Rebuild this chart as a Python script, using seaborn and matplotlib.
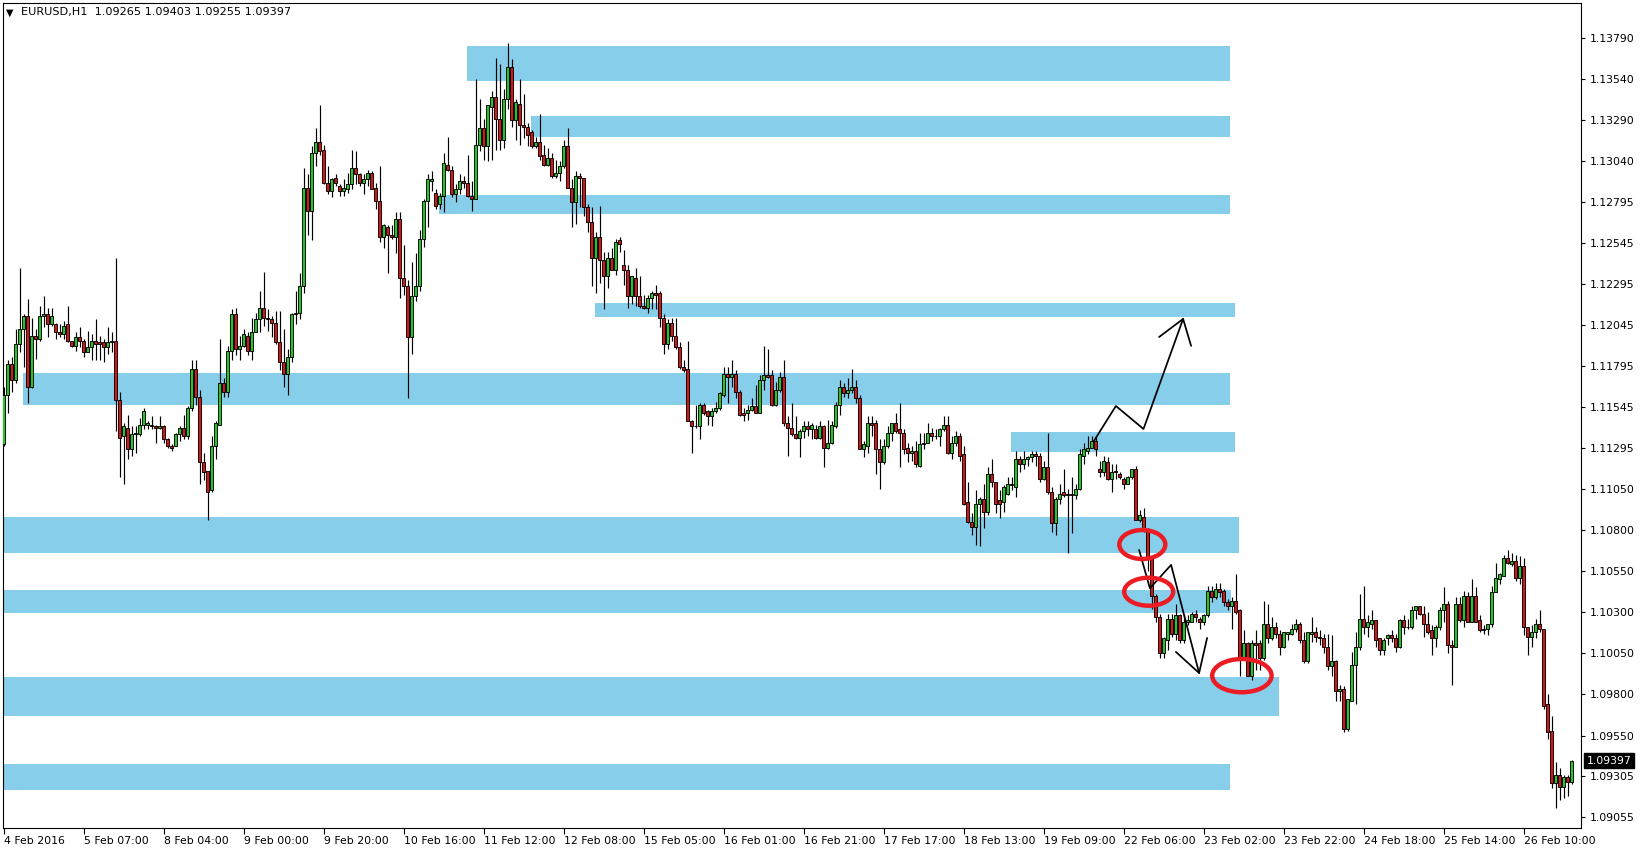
import numpy as np
import pandas as pd
import matplotlib
matplotlib.use("Agg")
import matplotlib.pyplot as plt
import matplotlib.transforms as mtransforms
from matplotlib.patches import Rectangle, Ellipse
import seaborn as sns

# ---------------- data (EURUSD H1), prices stored as pips above 1.0900 ----------------
BASE = 1.0900
open_pips = [
    232,262,281,271,293,302,310,267,298,296,310,311,305,305,300,299,305,295,292,297,
    295,288,291,295,294,294,291,294,295,259,237,242,229,238,238,244,244,244,243,242,
    243,235,231,231,238,242,237,254,278,261,221,216,204,231,244,269,264,289,311,290,
    292,298,289,300,308,315,309,308,306,294,282,275,285,311,312,328,388,374,409,416,
    411,391,386,394,389,386,387,390,400,396,391,393,397,388,380,358,364,359,358,369,
    333,328,297,322,328,357,380,392,385,378,383,402,399,384,387,392,391,383,381,414,
    424,413,437,443,430,417,442,461,429,439,426,425,422,413,416,408,402,406,395,397,
    401,413,388,379,395,394,376,367,345,358,344,334,345,338,356,341,338,322,333,322,
    316,315,321,324,324,309,293,306,298,291,279,278,246,243,243,256,252,249,252,254,
    262,275,273,275,264,251,251,253,255,251,271,274,274,256,265,273,245,242,238,236,
    240,243,241,241,236,243,230,233,243,256,267,263,265,267,260,229,231,245,245,229,
    221,231,239,245,241,239,230,227,228,219,232,233,239,237,237,241,244,227,233,237,
    226,197,185,182,196,199,191,214,209,198,197,202,208,206,223,220,223,224,226,225,
    211,218,203,184,199,203,202,202,201,205,225,228,230,234,217,215,221,211,216,214,
    211,208,212,217,186,188,180,162,140,127,105,113,126,117,128,113,124,124,129,126,
    124,128,143,139,144,143,136,134,137,131,102,111,91,111,111,102,123,114,121,117,
    109,117,117,120,123,113,100,117,118,115,114,109,97,100,82,83,59,76,98,109,
    126,121,123,125,114,107,114,116,114,109,125,121,121,131,134,129,123,119,114,121,
    131,135,110,109,135,125,140,124,140,125,119,120,123,142,150,152,163,159,161,151,
    158,121,115,118,123,120,74,58,26,31,24,30,26.5,
]
high_pips = [
    267,283,285,302,339,311,320,309,302,316,322,315,315,306,305,307,316,295,300,303,
    296,301,299,308,298,296,303,300,345,264,245,250,243,243,248,254,246,249,244,249,
    244,236,232,239,243,250,255,283,283,265,227,216,237,246,296,272,292,314,315,298,
    302,300,309,312,325,337,314,310,313,313,302,290,312,325,336,400,396,413,424,438,
    414,401,394,396,390,393,397,411,410,397,396,399,398,391,401,366,365,365,373,373,
    353,332,343,348,362,381,396,398,387,385,409,419,401,390,396,395,408,392,454,442,
    430,438,447,467,463,448,476,466,442,454,445,427,423,419,433,414,412,409,405,404,
    417,424,393,398,397,394,378,376,361,377,349,349,351,357,358,350,341,334,339,334,
    323,323,325,329,325,311,308,309,309,294,283,295,247,256,257,257,253,254,258,264,
    279,279,283,277,265,254,256,260,268,274,292,290,277,270,276,283,249,257,249,241,
    246,246,245,244,246,244,247,246,258,271,269,272,278,271,262,234,249,249,247,235,
    235,243,245,251,257,241,233,231,234,239,239,245,242,241,242,249,249,237,240,239,
    231,209,190,204,200,208,218,223,209,204,207,212,212,228,225,228,225,228,228,227,
    222,239,206,200,208,217,205,212,208,229,233,237,237,237,222,225,224,220,220,215,
    212,213,217,219,192,193,181,163,141,129,115,129,129,135,129,129,128,130,131,127,
    129,146,146,148,148,144,138,139,153,132,119,112,113,119,113,137,135,127,124,119,
    118,118,123,126,124,118,118,127,121,119,117,117,116,101,86,85,77,106,118,141,
    146,128,131,125,114,114,117,119,117,126,128,126,134,134,134,134,130,122,122,133,
    145,137,113,139,139,143,142,150,145,128,122,123,146,160,154,165,168,166,165,164,
    163,121,122,126,131,120,80,67,39,35,31,31,40.3,
]
low_pips = [
    231,251,264,269,288,279,257,266,284,295,303,297,304,296,297,296,294,291,289,291,
    285,288,283,283,283,282,287,288,240,212,208,223,225,227,237,241,241,241,233,241,
    233,230,228,231,234,235,235,252,256,208,210,186,203,223,244,261,261,283,286,283,
    291,286,283,300,300,304,301,297,293,277,267,262,282,305,308,324,359,356,401,408,
    390,384,382,389,383,383,385,387,390,389,384,389,387,375,355,351,336,357,348,321,
    323,260,287,319,325,352,364,386,375,375,373,398,382,379,384,388,382,374,381,410,
    405,404,405,411,411,412,436,425,417,414,418,413,412,412,405,401,401,394,394,392,
    400,388,364,366,376,371,361,328,324,330,314,327,338,335,349,329,315,317,316,315,
    314,312,314,314,303,287,290,295,290,278,276,246,227,242,235,250,244,243,251,253,
    261,257,267,260,249,246,247,252,251,251,265,272,255,255,264,243,225,237,235,224,
    236,237,235,235,235,218,229,232,242,250,261,260,263,257,229,224,227,237,214,205,
    220,230,234,239,218,226,221,222,218,218,229,233,234,235,231,240,226,223,231,222,
    195,184,177,171,170,181,189,206,190,187,191,201,204,200,215,217,219,221,219,209,
    210,202,179,177,196,200,166,178,199,204,220,226,230,225,212,213,210,203,211,211,
    205,208,211,186,185,179,155,132,124,102,102,107,115,113,111,111,122,124,124,120,
    122,127,136,138,139,134,131,120,129,91,101,91,89,95,95,101,111,113,114,104,
    108,113,116,118,111,99,99,112,112,110,105,95,91,76,76,57,58,76,74,107,
    117,115,120,109,104,104,110,112,106,108,117,120,120,126,128,115,117,104,109,119,
    124,105,86,109,124,121,124,124,124,118,117,116,121,142,147,152,159,158,149,147,
    116,104,109,114,118,71,53,23,11,16,17,18,25.5,
]
close_pips = [
    262,281,271,293,302,310,267,298,296,310,311,305,310,300,299,304,295,292,297,295,
    288,291,295,293,293,291,294,295,259,236,243,229,238,239,244,252,245,243,242,243,
    235,231,230,238,242,237,254,278,261,221,215,203,231,245,269,264,289,311,290,292,
    299,289,300,308,315,309,308,306,294,282,275,285,311,312,328,388,374,409,416,410,
    391,386,393,391,386,388,390,400,396,391,393,397,387,380,358,365,359,358,369,333,
    328,297,322,328,357,380,393,393,377,383,403,399,384,387,392,391,383,381,414,424,
    413,438,443,430,417,442,461,429,440,426,425,420,413,416,407,402,406,395,397,401,
    413,388,379,395,394,376,367,345,358,344,334,345,338,355,354,338,322,334,322,316,
    315,321,324,323,309,293,306,298,291,279,277,246,243,243,256,251,249,252,254,263,
    275,273,275,264,250,250,253,255,251,271,274,273,256,265,273,245,242,238,236,240,
    243,241,244,236,243,230,233,244,256,267,263,265,267,260,229,232,245,244,229,221,
    231,239,245,240,239,229,227,228,220,232,233,239,237,237,241,244,227,233,237,225,
    196,185,182,196,199,191,214,209,196,196,206,208,207,223,220,223,224,226,225,211,
    218,203,184,199,202,201,201,201,205,226,229,230,234,229,215,222,211,215,215,212,
    208,212,217,186,189,180,162,140,127,105,114,126,117,128,113,124,125,129,127,124,
    128,143,139,144,142,136,134,137,130,102,111,91,111,110,102,123,114,121,117,109,
    118,118,120,123,113,100,118,118,115,114,109,97,100,82,83,59,77,98,109,126,
    121,124,125,113,107,113,116,114,109,125,121,121,131,134,129,123,118,114,121,131,
    135,110,109,135,125,140,124,140,124,119,120,123,142,151,153,163,160,161,151,158,
    121,115,118,123,120,73,57,26,31,24,30,27,39.7,
]

x_tick_labels = ["4 Feb 2016", "5 Feb 07:00", "8 Feb 04:00", "9 Feb 00:00", "9 Feb 20:00",
                 "10 Feb 16:00", "11 Feb 12:00", "12 Feb 08:00", "15 Feb 05:00", "16 Feb 01:00",
                 "16 Feb 21:00", "17 Feb 17:00", "18 Feb 13:00", "19 Feb 09:00", "22 Feb 06:00",
                 "23 Feb 02:00", "23 Feb 22:00", "24 Feb 18:00", "25 Feb 14:00", "26 Feb 10:00"]
x_tick_bars = list(range(0, 381, 20))
y_tick_values = [1.13790, 1.13540, 1.13290, 1.13040, 1.12795, 1.12545, 1.12295, 1.12045,
                 1.11795, 1.11545, 1.11295, 1.11050, 1.10800, 1.10550, 1.10300, 1.10050,
                 1.09800, 1.09550, 1.09305, 1.09055]

# supply / demand zones (bar index span, price span)
zone_left = [115.9, 131.9, 108.9, 147.9, 4.9, 251.9, -0.2, -0.2, -0.2, -0.2]
zone_right = [306.7, 306.7, 306.7, 307.8, 306.7, 307.8, 308.8, 306.9, 318.9, 306.7]
zone_low = [1.13528, 1.13190, 1.12717, 1.12092, 1.11561, 1.11275, 1.10661, 1.10297, 1.09671, 1.09216]
zone_high = [1.13741, 1.13316, 1.12836, 1.12177, 1.11752, 1.11393, 1.10878, 1.10435, 1.09904, 1.09380]

# hand-drawn annotations (bar index, price)
up_path_x = [272.6, 278.1, 285.0, 294.9]
up_path_y = [1.11340, 1.11553, 1.11413, 1.12082]
up_head_x = [288.9, 294.9, 296.9]
up_head_y = [1.11972, 1.12082, 1.11918]
down_path_x = [283.9, 286.6, 291.9, 298.9]
down_path_y = [1.10678, 1.10445, 1.10587, 1.09930]
down_head_x = [293.1, 298.9, 300.9]
down_head_y = [1.10058, 1.09930, 1.10143]
circle_x = [284.7, 286.3, 309.6]
circle_y = [1.10711, 1.10424, 1.09914]
circle_w = [11.5, 12.25, 14.85]
circle_h = [0.00176, 0.00170, 0.00202]

header = "EURUSD,H1  1.09265 1.09403 1.09255 1.09397"
last_price = 1.09397

n = len(close_pips)
assert len(open_pips) == n and len(high_pips) == n and len(low_pips) == n, \
    (len(open_pips), len(high_pips), len(low_pips), n)

df = pd.DataFrame({
    "bar": np.arange(n),
    "open": BASE + np.array(open_pips, dtype=float) / 1e4,
    "high": BASE + np.array(high_pips, dtype=float) / 1e4,
    "low": BASE + np.array(low_pips, dtype=float) / 1e4,
    "close": BASE + np.array(close_pips, dtype=float) / 1e4,
})

# ---------------- style ----------------
sns.set_theme(style="white")
plt.rcParams["font.family"] = ["DejaVu Sans"]
FS = 7.8

W, H = 1642, 852
fig = plt.figure(figsize=(W / 100, H / 100), dpi=100)
fig.patch.set_facecolor("white")
ax = fig.add_axes([3 / W, 24 / H, 1578 / W, 825 / H])
ax.set_facecolor("white")
for s in ax.spines.values():
    s.set_visible(True)
    s.set_color("black")
    s.set_linewidth(0.8)

ax.set_xlim(-0.125, 394.375)
ax.set_ylim(1.08988, 1.14002)

# zones
for l, r, lo, hi in zip(zone_left, zone_right, zone_low, zone_high):
    ax.add_patch(Rectangle((l, lo), r - l, hi - lo, facecolor="#87CEEB",
                           edgecolor="none", zorder=0.5))

# wicks
ax.vlines(df["bar"], df["low"], df["high"], color="black", linewidth=0.85, zorder=2)

# bodies
bull = df["close"] >= df["open"]
bottom = np.minimum(df["open"], df["close"])
height = np.maximum(np.abs(df["close"] - df["open"]), 0.000012)
colors = np.where(bull, "#22c822", "#d81414")
ax.bar(df["bar"], height, bottom=bottom, width=0.64, color=colors,
       edgecolor="black", linewidth=0.65, zorder=3)

# annotations
ax.plot(up_path_x, up_path_y, color="black", lw=1.25, zorder=6)
ax.plot(up_head_x, up_head_y, color="black", lw=1.25, zorder=6)
ax.plot(down_path_x, down_path_y, color="black", lw=1.25, zorder=6)
ax.plot(down_head_x, down_head_y, color="black", lw=1.25, zorder=6)
for cx, cy, cw, ch in zip(circle_x, circle_y, circle_w, circle_h):
    ax.add_patch(Ellipse((cx, cy), cw, ch, fill=False, edgecolor="#ec1c24",
                         linewidth=3.2, zorder=7))

# axes ticks
ax.set_xticks(x_tick_bars)
ax.set_xticklabels(x_tick_labels, ha="left")
ax.yaxis.tick_right()
ax.set_yticks(y_tick_values)
ax.set_yticklabels([f"{v:.5f}" for v in y_tick_values])
ax.tick_params(axis="x", which="both", bottom=True, top=False, direction="out",
               length=4, width=0.8, pad=2, labelsize=FS, colors="black")
ax.tick_params(axis="y", which="both", right=True, left=False, labelright=True,
               labelleft=False, direction="out", length=3, width=0.8, pad=3,
               labelsize=FS, colors="black")
ax.grid(False)

# current price marker
trans = mtransforms.blended_transform_factory(ax.transAxes, ax.transData)
ax.text(1.0035, last_price, f"{last_price:.5f}", transform=trans, ha="left", va="center",
        color="white", fontsize=FS, zorder=10, clip_on=False,
        bbox=dict(boxstyle="square,pad=0.22", facecolor="black", edgecolor="black"))

# header
fig.text(6 / W, 1 - 12.5 / H, "\u25BC", fontsize=7, ha="left", va="center", color="black")
fig.text(21 / W, 1 - 12.5 / H, header, fontsize=8.1, ha="left", va="center", color="black")

fig.savefig("out.png", dpi=100, facecolor="white")
